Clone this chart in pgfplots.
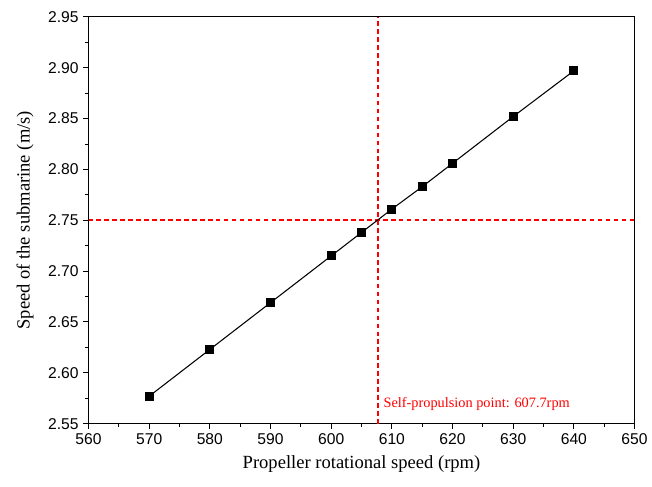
\documentclass[border=0pt]{standalone}
\usepackage{pgfplots}
\pgfplotsset{compat=1.18}
\usepackage{fontspec}
\setmainfont{Liberation Serif}
\setsansfont{Liberation Sans}

\begin{document}
\begin{tikzpicture}
\begin{axis}[
    scale only axis,
    width=411.75pt, height=306.75pt,
    xmin=560, xmax=650,
    ymin=2.55, ymax=2.95,
    xtick={560,570,...,650},
    ytick={2.55,2.60,...,2.95},
    minor x tick num=1,
    minor y tick num=1,
    tick align=outside,
    axis x line*=bottom, axis y line*=left,
    major tick length=4pt, minor tick length=2.5pt,
    tick style={black, line width=0.75pt},
    axis line style={line width=0.8pt},
    ticklabel style={font=\sffamily\fontsize{11.8}{13}\selectfont},
    /pgf/number format/assume math mode=true,
    yticklabel style={/pgf/number format/.cd, fixed, fixed zerofill, precision=2},
    xticklabel style={/pgf/number format/.cd, fixed, 1000 sep={}},
    xlabel={Propeller rotational speed (rpm)},
    ylabel={Speed of the submarine (m/s)},
    label style={font=\fontsize{14}{16}\selectfont},
    xlabel style={yshift=-1.5pt},
    ylabel style={yshift=4pt},
    clip=false,
]
% frame on top and right without ticks
\draw[line width=0.8pt] (rel axis cs:0,1) -- (rel axis cs:1,1) -- (rel axis cs:1,0);

\addplot[red, line width=1.2pt, dash pattern=on 3.5pt off 2.5pt] coordinates {(607.7,2.55) (607.7,2.95)};
\addplot[red, line width=1.2pt, dash pattern=on 3.5pt off 2.5pt] coordinates {(560,2.75) (650,2.75)};

\addplot[black, line width=0.8pt, mark=square*, mark size=3pt] coordinates {
    (570, 2.577)
    (580, 2.623)
    (590, 2.669)
    (600, 2.715)
    (605, 2.738)
    (610, 2.761)
    (615, 2.783)
    (620, 2.806)
    (630, 2.852)
    (640, 2.897)
};

\node[anchor=west, red, font=\fontsize{10.8}{12}\selectfont, inner sep=0pt] at (axis cs:608.6,2.5695) {Self-propulsion point: 607.7rpm};
\end{axis}
\path (current axis.south west) ++(-66.75pt,-47.25pt) coordinate (bbA);
\path (current axis.north east) ++(10.5pt,12.75pt) coordinate (bbB);
\useasboundingbox (bbA) rectangle (bbB);
\end{tikzpicture}
\end{document}
